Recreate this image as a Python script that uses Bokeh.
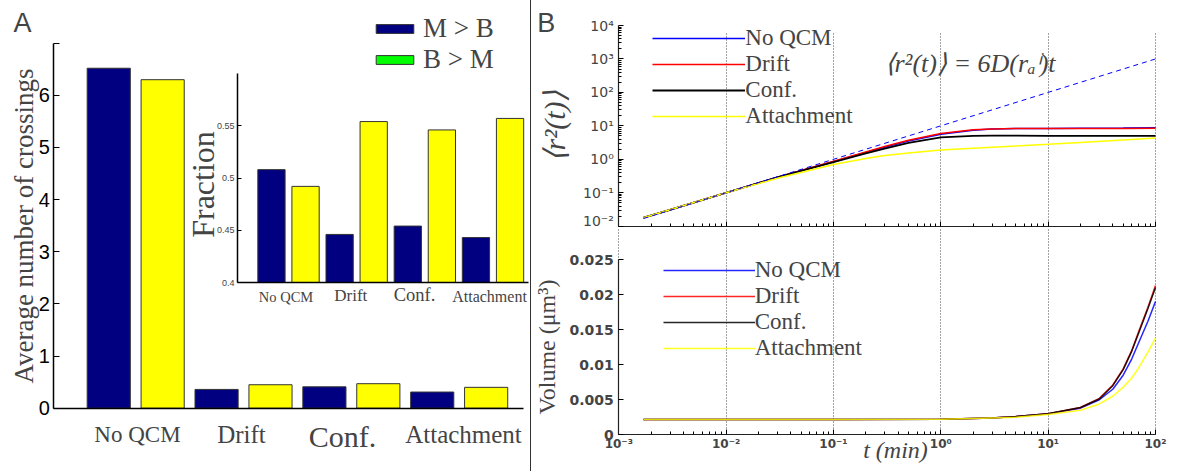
import math
from bokeh.plotting import figure
from bokeh.models import (ColumnDataSource, Range1d, LinearAxis, FixedTicker, Label,
                          Legend, LegendItem, CustomJSTickFormatter, Spacer, Grid)
from bokeh.layouts import row, column
from bokeh.transform import dodge
from bokeh.embed import file_html
from bokeh.resources import INLINE

# ---------------- data ----------------
categories = ["No QCM", "Drift", "Conf.", "Attachment"]
crossings_MB = [6.52, 0.36, 0.41, 0.31]
crossings_BM = [6.30, 0.45, 0.47, 0.40]
fraction_MB = [0.508, 0.446, 0.454, 0.443]
fraction_BM = [0.492, 0.554, 0.546, 0.557]
main_yticks = [0, 1, 2, 3, 4, 5, 6, 7]
inset_yticks = [0.4, 0.45, 0.5, 0.55]
legend_labels_A = ["M > B", "B > M"]

series_names = ["No QCM", "Drift", "Conf.", "Attachment"]
msd_t = [0.0017, 0.003, 0.01, 0.03, 0.1, 0.2, 0.3, 0.5, 1, 2, 3, 5, 10, 20, 50, 100]
msd_noqcm = [0.018, 0.031, 0.10, 0.29, 0.85, 1.6, 2.3, 3.5, 5.6, 7.4, 8.0, 8.3, 8.4, 8.5, 8.6, 8.8]
msd_drift = [0.018, 0.031, 0.10, 0.29, 0.87, 1.65, 2.4, 3.7, 5.9, 7.6, 8.1, 8.3, 8.3, 8.4, 8.4, 8.5]
msd_conf = [0.018, 0.031, 0.10, 0.29, 0.83, 1.5, 2.1, 3.1, 4.5, 5.0, 5.1, 5.1, 5.0, 5.0, 5.0, 5.0]
msd_attach = [0.018, 0.031, 0.10, 0.27, 0.70, 1.05, 1.3, 1.55, 1.9, 2.15, 2.3, 2.5, 2.8, 3.2, 3.8, 4.3]
fit_t = [0.0017, 100]
fit_r2 = [0.017, 1000]
msd_decades = [-2, -1, 0, 1, 2, 3, 4]
time_decades = [-3, -2, -1, 0, 1, 2]

vol_t = [0.0017, 0.01, 0.1, 1, 3, 5, 10, 20, 30, 40, 50, 60, 70, 85, 100]
vol_noqcm = [0.00218, 0.00218, 0.00218, 0.0022, 0.0024, 0.0026, 0.0030, 0.0038, 0.0050, 0.0065, 0.0085, 0.0108, 0.0132, 0.0162, 0.0190]
vol_drift = [0.00218, 0.00218, 0.00218, 0.0022, 0.0024, 0.0026, 0.0030, 0.0039, 0.0052, 0.0071, 0.0094, 0.0120, 0.0148, 0.0182, 0.0213]
vol_conf = [0.00218, 0.00218, 0.00218, 0.0022, 0.0024, 0.0026, 0.0030, 0.0039, 0.0051, 0.0070, 0.0093, 0.0119, 0.0146, 0.0180, 0.0210]
vol_attach = [0.00218, 0.00218, 0.00218, 0.0022, 0.0024, 0.0025, 0.0029, 0.0035, 0.0044, 0.0055, 0.0068, 0.0081, 0.0096, 0.0118, 0.0138]
vol_yticks = [0, 0.005, 0.01, 0.015, 0.02, 0.025]

# ---------------- styles / layout (page pixels) ----------------
SERIF = "Liberation Serif"
SANS = "Liberation Sans"
NAVY = "#000080"
YEL = "#ffff00"
GREEN = "#00ff00"
EDGE = "#333333"
LINE_COLORS = ["#0000ff", "#ff0000", "#000000", "#ffff00"]

OX, OY = 0, 0          # page origin of the layout
W, H = 1177, 471
SEP_X = 530
TOP_SPLIT = 228


def lin(v0, p0, v1, p1):
    return lambda p: v0 + (p - p0) * (v1 - v0) / (p1 - p0)


num_fmt = CustomJSTickFormatter(code="return String(parseFloat(tick.toFixed(4)));")
log_fmt_code = """
const s = {"-":"\u207b","0":"\u2070","1":"\u00b9","2":"\u00b2","3":"\u00b3","4":"\u2074","5":"\u2075","6":"\u2076","7":"\u2077","8":"\u2078","9":"\u2079"};
const e = Math.round(Math.log10(tick));
return "10" + String(e).split("").map(c => s[c]).join("");
"""
HAS_CB = "cross_bounds" in Grid.properties()


def bare_figure(x0, y0, x1, y1, **kw):
    p = figure(frame_width=int(x1 - x0), frame_height=int(y1 - y0), min_border=0,
               output_backend="svg", toolbar_location=None, **kw)
    p.outline_line_color = None
    p.background_fill_color = "white"
    p.border_fill_color = "white"
    return p


# ================= panel A =================
X_A = lin(1, 135.2 - OX, 4, 458.7 - OX)
Y_A = lin(0, 407.7 - OY, 7, 42.7 - OY)
X_I = lin(1, 288 - OX, 4, 492.5 - OX)
Y_I = lin(0.4, 282 - OY, 0.6, 73 - OY)
A_left, A_right = X_A(53.3 - OX), X_A(523.3 - OX)

pA = bare_figure(0, 0, SEP_X - OX, H - 2 * OY,
                 x_range=Range1d(X_A(0), X_A(SEP_X - OX)),
                 y_range=Range1d(Y_A(H - 2 * OY), Y_A(0)))
pA.xgrid.visible = False
pA.ygrid.visible = False

pos = list(range(1, len(categories) + 1))
src = ColumnDataSource(dict(x=pos, mb=crossings_MB, bm=crossings_BM,
                            fmb=fraction_MB, fbm=fraction_BM))

r_mb = pA.vbar(x=dodge("x", -0.25), top="mb", width=0.4, source=src,
               fill_color=NAVY, line_color=EDGE, line_width=1)
pA.vbar(x=dodge("x", 0.25), top="bm", width=0.4, source=src,
        fill_color=YEL, line_color=EDGE, line_width=1)
r_green = pA.vbar(x=dodge("x", 0.25), top="bm", width=0.4, source=src,
                  fill_color=GREEN, line_color=EDGE, line_width=1, visible=False)

ya = pA.yaxis[0]
ya.fixed_location = A_left
ya.bounds = (main_yticks[0], main_yticks[-1])
ya.ticker = FixedTicker(ticks=main_yticks)
ya.major_label_overrides = {7: ""}
ya.major_tick_in = 6
ya.major_tick_out = 0
ya.minor_tick_in = 0
ya.minor_tick_out = 0
ya.major_label_standoff = 4
ya.major_label_text_font = SANS
ya.major_label_text_font_size = "20px"
ya.major_label_text_color = "black"
ya.axis_line_width = 1.5
ya.axis_label = "Average number of crossings"
ya.axis_label_text_font = SERIF
ya.axis_label_text_font_size = "27px"
ya.axis_label_text_font_style = "normal"
ya.axis_label_standoff = -4

xa = pA.xaxis[0]
xa.fixed_location = 0
xa.ticker = FixedTicker(ticks=[])
xa.bounds = (A_left, A_right)
xa.axis_line_width = 1.5
xa.major_tick_in = 0
xa.major_tick_out = 0
xa.minor_tick_in = 0
xa.minor_tick_out = 0

# category labels under main axis (sizes differ as in the original)
main_lab_cx = [137, 241, 342, 463]
main_lab_cy = [434, 434, 435.5, 433.5]
main_lab_size = ["23px", "25px", "30px", "25px"]
for i, c in enumerate(categories):
    pA.add_layout(Label(x=X_A(main_lab_cx[i] - OX), y=Y_A(main_lab_cy[i] - OY), text=c,
                        text_font=SERIF, text_font_size=main_lab_size[i],
                        text_align="center", text_baseline="middle"))

pA.add_layout(Label(x=X_A(13 - OX), y=Y_A(22 - OY), text="A",
                    text_font=SANS, text_font_size="27px", text_baseline="middle"))

# ---- inset on extra ranges ----
IY_LIM = (inset_yticks[0], 0.6)
I_left, I_right = X_I(237 - OX), X_I(528.3 - OX)
pA.extra_x_ranges = {"ix": Range1d(X_I(0), X_I(SEP_X - OX))}
pA.extra_y_ranges = {"iy": Range1d(Y_I(H - 2 * OY), Y_I(0))}
pA.vbar(x=dodge("x", -0.25), top="fmb", bottom=IY_LIM[0], width=0.4, source=src,
        fill_color=NAVY, line_color=EDGE, line_width=1, x_range_name="ix", y_range_name="iy")
pA.vbar(x=dodge("x", 0.25), top="fbm", bottom=IY_LIM[0], width=0.4, source=src,
        fill_color=YEL, line_color=EDGE, line_width=1, x_range_name="ix", y_range_name="iy")

iy_axis = LinearAxis(x_range_name="ix", y_range_name="iy", fixed_location=I_left,
                     bounds=IY_LIM, ticker=FixedTicker(ticks=inset_yticks), formatter=num_fmt,
                     major_tick_in=4, major_tick_out=0, minor_tick_in=0, minor_tick_out=0,
                     major_label_text_font=SANS, major_label_text_font_size="9px",
                     major_label_standoff=3, axis_line_width=1.5)
pA.add_layout(iy_axis, "left")
ix_axis = LinearAxis(x_range_name="ix", y_range_name="iy", fixed_location=IY_LIM[0],
                     bounds=(I_left, I_right), ticker=FixedTicker(ticks=[]),
                     major_tick_in=0, major_tick_out=0,
                     minor_tick_in=0, minor_tick_out=0, axis_line_width=1.5)
pA.add_layout(ix_axis, "below")

pA.add_layout(Label(x=X_I(202 - OX), y=Y_I(184 - OY), text="Fraction", angle=math.pi / 2,
                    angle_units="rad", text_font=SERIF, text_font_size="32px",
                    text_align="center", text_baseline="middle",
                    x_range_name="ix", y_range_name="iy"))

inset_lab_cx = [285.5, 350.3, 414, 489]
inset_lab_cy = [296, 295, 294.5, 295.5]
inset_lab_size = ["14.5px", "17px", "18.5px", "16px"]
for i, c in enumerate(categories):
    pA.add_layout(Label(x=X_I(inset_lab_cx[i] - OX), y=Y_I(inset_lab_cy[i] - OY), text=c,
                        text_font=SERIF, text_font_size=inset_lab_size[i],
                        text_align="center", text_baseline="middle",
                        x_range_name="ix", y_range_name="iy"))

legA = Legend(items=[LegendItem(label=legend_labels_A[0], renderers=[r_mb]),
                     LegendItem(label=legend_labels_A[1], renderers=[r_green])],
              location=(371 - OX, (H - OY) - 75), glyph_width=47, glyph_height=11,
              label_standoff=5, label_text_font=SERIF, label_text_font_size="27px",
              spacing=0, padding=0, margin=0, border_line_alpha=0, background_fill_alpha=0,
              inactive_fill_alpha=0)
pA.add_layout(legA)

# ================= panel B shared =================
LX = lin(-3, 618.3 - OX, 2, 1155 - OX)
bx0, bx1 = SEP_X + 1, W - OX
t_major = [10.0 ** k for k in time_decades]
t_minor = [m * 10.0 ** k for k in time_decades[:-1] for m in range(2, 10)]
r_major = [10.0 ** k for k in msd_decades]
r_minor = [m * 10.0 ** k for k in msd_decades[:-1] for m in range(2, 10)]


def style_time_axis(p, at_y, show_labels, grid_lo, grid_hi):
    ax = p.xaxis[0]
    ax.fixed_location = at_y
    ax.bounds = (t_major[0], t_major[-1])
    ax.ticker = FixedTicker(ticks=t_major, minor_ticks=t_minor)
    ax.major_tick_in = 5
    ax.major_tick_out = 0
    ax.minor_tick_in = 3
    ax.minor_tick_out = 0
    ax.axis_line_width = 1.2
    ax.axis_line_color = "#222222"
    if show_labels:
        ax.formatter = CustomJSTickFormatter(code=log_fmt_code)
        ax.major_label_text_font = "DejaVu Sans"
        ax.major_label_text_font_style = "bold"
        ax.major_label_text_font_size = "12px"
        ax.major_label_standoff = 2
    else:
        ax.formatter = CustomJSTickFormatter(code="return '';")
    p.ygrid.visible = False
    g = p.xgrid[0]
    if HAS_CB:
        g.ticker = FixedTicker(ticks=t_major)
        g.cross_bounds = (grid_lo, grid_hi)
        g.grid_line_color = "#444444"
        g.grid_line_dash = "1 2"
        g.grid_line_width = 1
    else:
        g.visible = False
        p.segment(x0=t_major, x1=t_major, y0=[grid_lo] * len(t_major),
                  y1=[grid_hi] * len(t_major), line_color="#444444",
                  line_dash="1 2", line_width=1)


# ================= panel B (top) =================
LY = lin(-2, 225.7 - OY, 4, 25 - OY)
pB = bare_figure(bx0, 0, bx1, TOP_SPLIT - OY, x_axis_type="log", y_axis_type="log",
                 x_range=Range1d(10.0 ** LX(bx0), 10.0 ** LX(bx1)),
                 y_range=Range1d(10.0 ** LY(TOP_SPLIT - OY), 10.0 ** LY(0)))
style_time_axis(pB, r_major[0], False, r_major[0], 10.0 ** LY(32 - OY))

yb = pB.yaxis[0]
yb.fixed_location = t_major[0]
yb.bounds = (r_major[0], r_major[-1])
yb.ticker = FixedTicker(ticks=r_major, minor_ticks=r_minor)
yb.formatter = CustomJSTickFormatter(code=log_fmt_code)
yb.major_tick_in = 5
yb.major_tick_out = 0
yb.minor_tick_in = 3
yb.minor_tick_out = 0
yb.axis_line_width = 1.2
yb.axis_line_color = "#222222"
yb.major_label_text_font = "DejaVu Sans"
yb.major_label_text_font_size = "14px"
yb.major_label_standoff = 5
yb.axis_label = "⟨r²(t)⟩"
yb.axis_label_text_font = SERIF
yb.axis_label_text_font_size = "30px"
yb.axis_label_text_font_style = "italic"
yb.axis_label_standoff = 9

msd_series = [msd_noqcm, msd_drift, msd_conf, msd_attach]
msd_widths = [1.5, 1.5, 1.8, 1.5]
rB = []
for vals, col, w in zip(msd_series, LINE_COLORS, msd_widths):
    rB.append(pB.line(msd_t, vals, line_color=col, line_width=w))
pB.line(fit_t, fit_r2, line_color="#0000ff", line_width=1, line_dash="5 4")

legB = Legend(items=[LegendItem(label=n, renderers=[r]) for n, r in zip(series_names, rB)],
              location=(652.3 - bx0 - OX, (TOP_SPLIT - OY) - 129.3), glyph_width=93,
              label_standoff=0, spacing=0, padding=0, margin=0,
              label_text_font=SERIF, label_text_font_size="23px",
              border_line_alpha=0, background_fill_alpha=0)
pB.add_layout(legB)

pB.add_layout(Label(x=10.0 ** LX(536.7 - OX), y=10.0 ** LY(22.5 - OY), text="B",
                    text_font=SANS, text_font_size="27px", text_baseline="middle"))
pB.add_layout(Label(x=10.0 ** LX(884 - OX), y=10.0 ** LY(63 - OY),
                    text="⟨r²(t)⟩ = 6D(rₐⁱ)t", text_font=SERIF, text_font_size="26px",
                    text_font_style="italic", text_baseline="middle"))

# ================= panel B (bottom) =================
Y_C = lin(0, 434.3 - OY, 0.025, 259 - OY)
pC = bare_figure(bx0, TOP_SPLIT - OY, bx1, H - OY, x_axis_type="log",
                 x_range=Range1d(10.0 ** LX(bx0), 10.0 ** LX(bx1)),
                 y_range=Range1d(Y_C(H - OY), Y_C(TOP_SPLIT - OY)))
style_time_axis(pC, 0, True, 0, Y_C(TOP_SPLIT - OY))

pC.add_layout(Label(x=10.0 ** LX(895 - OX), y=Y_C(449 - OY), text="t (min)",
                    text_font=SERIF, text_font_size="24px", text_font_style="italic",
                    text_align="center", text_baseline="middle"))

yc = pC.yaxis[0]
yc.fixed_location = t_major[0]
yc.ticker = FixedTicker(ticks=vol_yticks)
yc.formatter = num_fmt
yc.bounds = (vol_yticks[0], vol_yticks[-1])
yc.major_tick_in = 5
yc.major_tick_out = 0
yc.minor_tick_in = 0
yc.minor_tick_out = 0
yc.axis_line_width = 1.2
yc.axis_line_color = "#222222"
yc.major_label_text_font = "DejaVu Sans"
yc.major_label_text_font_style = "bold"
yc.major_label_text_font_size = "14px"
yc.major_label_standoff = 5
yc.axis_label = "Volume (μm³)"
yc.axis_label_text_font = SERIF
yc.axis_label_text_font_size = "24px"
yc.axis_label_text_font_style = "normal"
yc.axis_label_standoff = 6

vol_series = [vol_noqcm, vol_drift, vol_conf, vol_attach]
rC = []
for vals, col in zip(vol_series, LINE_COLORS):
    rC.append(pC.line(vol_t, vals, line_color=col, line_width=1.5, line_alpha=0.85))

legC = Legend(items=[LegendItem(label=n, renderers=[r]) for n, r in zip(series_names, rC)],
              location=(662.7 - bx0 - OX, (H - OY) - 361), glyph_width=92,
              label_standoff=0, spacing=0, padding=0, margin=0,
              label_text_font=SERIF, label_text_font_size="23px",
              border_line_alpha=0, background_fill_alpha=0)
pC.add_layout(legC)

sep = Spacer(width=1, height=H - 2 * OY, styles={"background-color": "#333333"})
layout = row(pA, sep, column(pB, pC, spacing=0), spacing=0)

open("out.html", "w").write(file_html(layout, INLINE))
